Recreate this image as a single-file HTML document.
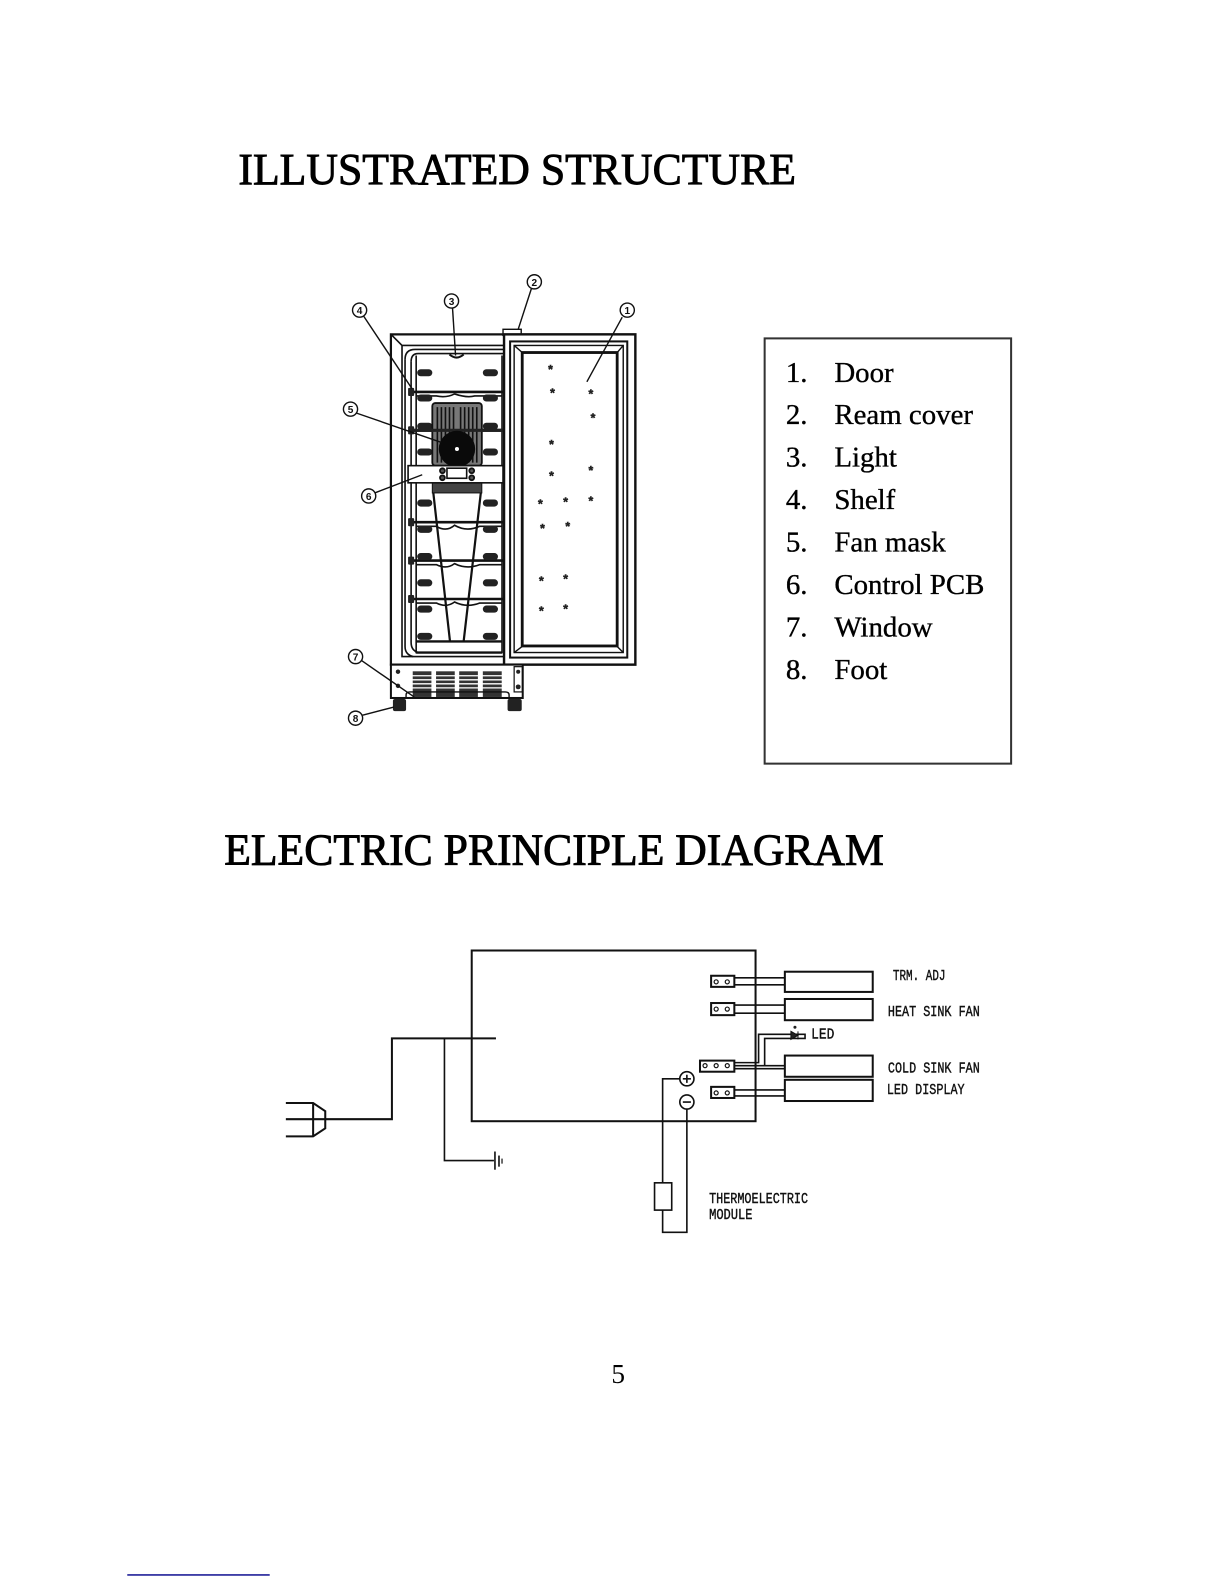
<!DOCTYPE html>
<html>
<head>
<meta charset="utf-8">
<style>
html,body{margin:0;padding:0;background:#fff;width:1224px;height:1584px;overflow:hidden}
svg{display:block}
.t{font-family:"Liberation Serif",serif;fill:#000;stroke:#000;stroke-width:.9}
.l{font-family:"Liberation Serif",serif;font-size:28.6px;fill:#000;stroke:#000;stroke-width:.35}
.c{font-family:"Liberation Mono",monospace;font-size:15px;fill:#111;stroke:#111;stroke-width:.4}
.n{font-family:"Liberation Sans",sans-serif;font-size:10px;font-weight:bold;fill:#111;text-anchor:middle}
.s{font-family:"Liberation Sans",sans-serif;font-size:12px;font-weight:bold;fill:#222;stroke:#222;stroke-width:.5;text-anchor:middle}
</style>
</head>
<body>
<svg width="1224" height="1584" viewBox="0 0 1211.76 1568.16" xmlns="http://www.w3.org/2000/svg">
<rect width="1212" height="1569" fill="#fff"/>

<text class="t" x="236" y="182" font-size="44" textLength="552" lengthAdjust="spacingAndGlyphs">ILLUSTRATED STRUCTURE</text>
<text class="t" x="222" y="856" font-size="44" textLength="653" lengthAdjust="spacingAndGlyphs">ELECTRIC PRINCIPLE DIAGRAM</text>

<!-- cabinet -->
<g fill="none" stroke="#111" stroke-width="1.6">
  <path d="M500 331H387V658H500" stroke-width="2.2"/>
  <path d="M387 331L398 342H500M398 342V650H500"/>
  <path d="M401 356Q401 346 411 346H498M407 358Q407 350 414 350H498"/>
  <path d="M401 356V640Q401 648 409 650M407 358V636Q407 644 414 646"/>
  <path d="M412 352V646H497V352"/>
  <path d="M412 646H497M412 635H497" stroke-width="2.4"/>
  <path d="M445 351Q452 357 459 351" stroke-width="2"/>

  <!-- shelves -->
  <path d="M406 388H498" stroke-width="2.6"/>
  <path d="M412 392H432Q442 394 450 390Q462 394 470 392H497"/>
  <path d="M406 426H498" stroke-width="3"/>
  <path d="M406 517H498" stroke-width="2.6"/>
  <path d="M412 521H432Q442 527 450 520Q462 527 475 521H497"/>
  <path d="M406 555H498" stroke-width="2.6"/>
  <path d="M412 559H432Q442 564 450 558Q462 564 475 559H497"/>
  <path d="M406 593H498" stroke-width="2.4"/>
  <path d="M412 597H432Q442 602 450 596Q462 602 475 597H497"/>

  <!-- trapezoid -->
  <path d="M429 488L445.5 635M476 488L459 635" stroke-width="2.2"/>
</g>

<!-- shelf pegs -->
<g fill="#222">
  <rect x="413" y="365.500" width="15" height="7" rx="3.5"/><rect x="478" y="365.500" width="15" height="7" rx="3.500"/>
  <rect x="413" y="390.500" width="15" height="7" rx="3.5"/><rect x="478" y="390.500" width="15" height="7" rx="3.500"/>
  <rect x="413" y="418.500" width="15" height="7" rx="3.5"/><rect x="478" y="418.500" width="15" height="7" rx="3.500"/>
  <rect x="413" y="444" width="15" height="7" rx="3.5"/><rect x="478" y="444" width="15" height="7" rx="3.500"/>
  <rect x="413" y="494.500" width="15" height="7" rx="3.5"/><rect x="478" y="494.500" width="15" height="7" rx="3.500"/>
  <rect x="413" y="520.500" width="15" height="7" rx="3.5"/><rect x="478" y="520.500" width="15" height="7" rx="3.500"/>
  <rect x="413" y="547.500" width="15" height="7" rx="3.5"/><rect x="478" y="547.500" width="15" height="7" rx="3.500"/>
  <rect x="413" y="573.500" width="15" height="7" rx="3.5"/><rect x="478" y="573.500" width="15" height="7" rx="3.500"/>
  <rect x="413" y="599.500" width="15" height="7" rx="3.5"/><rect x="478" y="599.500" width="15" height="7" rx="3.500"/>
  <rect x="413" y="626.500" width="15" height="7" rx="3.5"/><rect x="478" y="626.500" width="15" height="7" rx="3.500"/>
  <rect x="404" y="384" width="6" height="8" rx="1"/>
  <rect x="404" y="422" width="6" height="8" rx="1"/>
  <rect x="404" y="513" width="6" height="8" rx="1"/>
  <rect x="404" y="551" width="6" height="8" rx="1"/>
  <rect x="404" y="589" width="6" height="8" rx="1"/>
</g>

<!-- fan mask -->
<rect x="428" y="399" width="49" height="62" rx="3" fill="#777" stroke="#111" stroke-width="1.8"/>
<g stroke="#111" stroke-width="1.6">
  <path d="M433 403V458M437 403V458M441 403V458M445 403V458M449 403V458M456 403V458M460 403V458M464 403V458M468 403V458M472 403V458"/>
</g>
<path d="M406 426H498" stroke="#222" stroke-width="3"/>
<circle cx="452.400" cy="444.500" r="18" fill="#0a0a0a"/>
<circle cx="452.400" cy="444.500" r="2" fill="#fff"/>

<!-- lower mask stub -->
<rect x="428" y="478" width="49" height="10" fill="#444" stroke="#111"/>

<!-- control panel -->
<rect x="404" y="461" width="94" height="17" fill="#fff" stroke="#111" stroke-width="1.6"/>
<rect x="442.500" y="463.500" width="19.500" height="10" fill="#fff" stroke="#111" stroke-width="1.600"/>
<g fill="#555" stroke="#111" stroke-width="1.8">
  <circle cx="438" cy="466" r="2.4"/><circle cx="438" cy="473" r="2.4"/>
  <circle cx="467" cy="466" r="2.4"/><circle cx="467" cy="473" r="2.4"/>
</g>

<!-- hinge -->
<rect x="498" y="326" width="18" height="6" fill="#fff" stroke="#111" stroke-width="1.4"/>

<!-- door -->
<rect x="499" y="331" width="130" height="327" fill="#fff" stroke="#111" stroke-width="2.4"/>
<rect x="505" y="338" width="116" height="313" fill="none" stroke="#111" stroke-width="2"/>
<rect x="509" y="342" width="108" height="304" fill="none" stroke="#111" stroke-width="1.4"/>
<rect x="517" y="349" width="94" height="290.500" fill="none" stroke="#111" stroke-width="2.800"/>
<path d="M509 342L517 349M617 342L611 349M509 646L517 640M617 646L611 640" stroke="#111" stroke-width="1.4"/>

<!-- door marks -->
<g>
<text class="s" x="545" y="370">*</text><text class="s" x="547" y="393">*</text>
<text class="s" x="585" y="394">*</text><text class="s" x="587" y="418">*</text>
<text class="s" x="546" y="444">*</text><text class="s" x="546" y="475">*</text>
<text class="s" x="585" y="470">*</text><text class="s" x="535" y="503">*</text>
<text class="s" x="560" y="501">*</text><text class="s" x="585" y="500">*</text>
<text class="s" x="537" y="527">*</text><text class="s" x="562" y="525">*</text>
<text class="s" x="536" y="579">*</text><text class="s" x="560" y="577">*</text>
<text class="s" x="536" y="609">*</text><text class="s" x="560" y="607">*</text>
</g>

<!-- base -->
<rect x="387" y="658" width="130.500" height="33" fill="#fff" stroke="#111" stroke-width="2"/>
<g fill="#333">
  <rect x="408.600" y="664.600" width="18.500" height="25.400"/>
  <rect x="431.700" y="664.600" width="18.500" height="25.400"/>
  <rect x="454.600" y="664.600" width="18.500" height="25.400"/>
  <rect x="478" y="664.600" width="18.700" height="25.400"/>
</g>
<g stroke="#fff" stroke-width="1.300">
  <path d="M408 669H497M408 673H497M408 677H497M408 681H497"/>
</g>
<path d="M402 691V688Q402 685 406 685H500Q504 685 504 688V691" fill="none" stroke="#111" stroke-width="1.4"/>
<circle cx="394" cy="665" r="2.200" fill="#222"/><circle cx="394" cy="679" r="2.200" fill="#222"/>
<rect x="509" y="660" width="8" height="25" fill="#fff" stroke="#111" stroke-width="1.2"/>
<circle cx="513" cy="665" r="2" fill="#222"/><circle cx="513" cy="680" r="2.4" fill="#222"/>
<rect x="389" y="692" width="13" height="12" rx="2" fill="#222"/>
<rect x="502.500" y="692" width="14" height="12" rx="2" fill="#222"/>

<!-- leaders -->
<g stroke="#111" stroke-width="1.4" fill="none">
  <path d="M616 314L581 378"/>
  <path d="M526 286L513 326"/>
  <path d="M448 305L451 352"/>
  <path d="M360 313L408 385"/>
  <path d="M353 409L437 438"/>
  <path d="M371 488L418 470"/>
  <path d="M358 654L410 690"/>
  <path d="M359 708L390 700"/>
</g>
<g fill="#fff" stroke="#111" stroke-width="1.4">
  <circle cx="621" cy="307" r="7"/><circle cx="529" cy="279" r="7"/>
  <circle cx="447" cy="298" r="7"/><circle cx="356" cy="307" r="7"/>
  <circle cx="347" cy="405" r="7"/><circle cx="365" cy="491" r="7"/>
  <circle cx="352" cy="650" r="7"/><circle cx="352" cy="711" r="7"/>
</g>
<text class="n" x="621" y="311">1</text><text class="n" x="529" y="283">2</text>
<text class="n" x="447" y="302">3</text><text class="n" x="356" y="311">4</text>
<text class="n" x="347" y="409">5</text><text class="n" x="365" y="495">6</text>
<text class="n" x="352" y="654">7</text><text class="n" x="352" y="715">8</text>

<!-- list -->
<rect x="757" y="335" width="244" height="421" fill="#fff" stroke="#333" stroke-width="2"/>
<g>
  <text class="l" x="778" y="378">1.</text><text class="l" x="826" y="378">Door</text>
  <text class="l" x="778" y="420">2.</text><text class="l" x="826" y="420">Ream cover</text>
  <text class="l" x="778" y="462">3.</text><text class="l" x="826" y="462">Light</text>
  <text class="l" x="778" y="504">4.</text><text class="l" x="826" y="504">Shelf</text>
  <text class="l" x="778" y="546">5.</text><text class="l" x="826" y="546">Fan mask</text>
  <text class="l" x="778" y="588">6.</text><text class="l" x="826" y="588">Control PCB</text>
  <text class="l" x="778" y="630">7.</text><text class="l" x="826" y="630">Window</text>
  <text class="l" x="778" y="672">8.</text><text class="l" x="826" y="672">Foot</text>
</g>

<!-- electric diagram -->
<g fill="none" stroke="#111" stroke-width="2">
  <rect x="467" y="941" width="281" height="169"/>
  <path d="M283 1092H310L322 1100V1117L310 1125H283M310 1092V1125M283 1108H388V1028H491"/>
  <path d="M440 1028V1149H489" stroke-width="1.6"/>
  <path d="M490 1140V1158" stroke-width="1.6"/><path d="M494 1144V1155" stroke-width="1.6"/><path d="M497 1147V1152" stroke-width="1.2"/>
  <rect x="704" y="966" width="23" height="11"/>
  <rect x="704" y="993" width="23" height="12"/>
  <rect x="693" y="1050" width="34" height="11"/>
  <rect x="704" y="1076" width="23" height="11"/>
  <rect x="777" y="962" width="87" height="20"/>
  <rect x="777" y="989" width="87" height="21"/>
  <rect x="777" y="1045" width="87" height="21"/>
  <rect x="777" y="1069" width="87" height="21"/>
  <path d="M727 968H777M727 975H777M727 995H777M727 1003H777M727 1055H777M727 1058H777M727 1079H777M727 1085H777" stroke-width="1.6"/>
  <path d="M727 1052H751V1024H797V1028H757V1055" stroke-width="1.6"/>
  <circle cx="680" cy="1068" r="7" stroke-width="1.6"/>
  <circle cx="680" cy="1091" r="7" stroke-width="1.6"/>
  <path d="M673 1068H656V1171M676 1068H684M680 1064V1072M676 1091H684" stroke-width="1.6"/>
  <rect x="648" y="1171" width="17" height="27" stroke-width="1.6"/>
  <path d="M656 1198V1220H680V1098" stroke-width="1.6"/>
</g>
<g fill="none" stroke="#111" stroke-width="1.2">
  <circle cx="709" cy="972" r="2"/><circle cx="720" cy="972" r="2"/>
  <circle cx="709" cy="999" r="2"/><circle cx="720" cy="999" r="2"/>
  <circle cx="698" cy="1055" r="2"/><circle cx="709" cy="1055" r="2"/><circle cx="720" cy="1055" r="2"/>
  <circle cx="709" cy="1082" r="2"/><circle cx="720" cy="1082" r="2"/>
</g>
<path d="M783 1021L790 1025L783 1029ZM790 1021V1029" fill="#222" stroke="#111"/>
<circle cx="787" cy="1017" r="1.5" fill="#222"/>

<g>
  <text class="c" x="884" y="970" textLength="52" lengthAdjust="spacingAndGlyphs">TRM. ADJ</text>
  <text class="c" x="879" y="1006" textLength="91" lengthAdjust="spacingAndGlyphs">HEAT SINK FAN</text>
  <text class="c" x="803" y="1028" textLength="23" lengthAdjust="spacingAndGlyphs">LED</text>
  <text class="c" x="879" y="1062" textLength="91" lengthAdjust="spacingAndGlyphs">COLD SINK FAN</text>
  <text class="c" x="878" y="1083" textLength="77" lengthAdjust="spacingAndGlyphs">LED DISPLAY</text>
  <text class="c" x="702" y="1191" textLength="98" lengthAdjust="spacingAndGlyphs">THERMOELECTRIC</text>
  <text class="c" x="702" y="1207" textLength="43" lengthAdjust="spacingAndGlyphs">MODULE</text>
</g>

<text x="612" y="1369" font-family="'Liberation Serif',serif" font-size="27" text-anchor="middle" fill="#000">5</text>
<rect x="126" y="1558.500" width="141" height="1.400" fill="#00008b"/>
</svg>
</body>
</html>
